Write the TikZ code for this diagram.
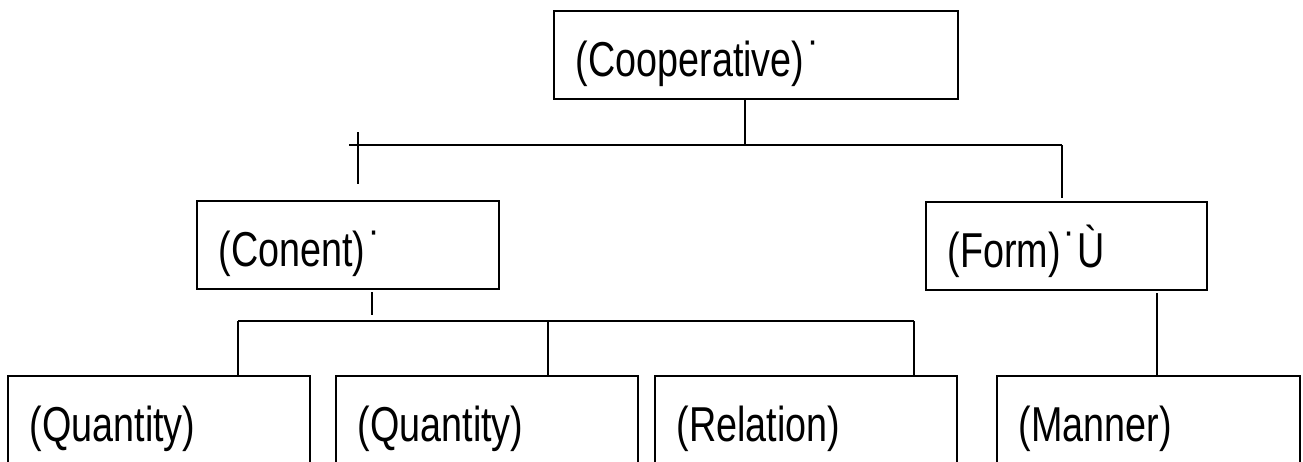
\documentclass[tikz,border=0pt]{standalone}
\usepackage{fontspec}
\setmainfont{Liberation Sans}[FakeStretch=0.77]

\begin{document}
\begin{tikzpicture}[x=1pt,y=-1pt,line width=1.5pt,
  box/.style={draw, rectangle, anchor=north west, inner xsep=22pt, inner ysep=0pt,
    minimum height=88pt, text height=52pt, text depth=8pt, align=left,
    font=\fontsize{49}{55}\selectfont},
  link/.style={line width=1.5pt}]
  % page frame
  \clip (0,0) rectangle (1303,461);
  \fill[white] (0,0) rectangle (1303,461);

  % boxes
  \node[box, text width=360pt] (coop) at (553,10) {(Cooperative)\kern4pt˙};
  \node[box, text width=258pt] (content) at (196,200) {(Conent)\kern4pt˙};
  \node[box, text width=237pt] (form) at (925,201) {(Form)\kern4pt˙Ù};
  \node[box, text width=258pt] (qa) at (7,375) {(Quantity)};
  \node[box, text width=258pt] (qb) at (335,375) {(Quantity)};
  \node[box, text width=258pt] (rel) at (654,375) {(Relation)};
  \node[box, text width=259pt] (man) at (996,375) {(Manner)};

  % junction points
  \coordinate (topj) at (745,145);
  \coordinate (topl) at (349,145);
  \coordinate (topr) at (1062,145);
  \coordinate (ticka) at (358,132);
  \coordinate (tickb) at (358,184);
  \coordinate (formin) at (1062,198);
  \coordinate (conta) at (372,292);
  \coordinate (contb) at (372,315);
  \coordinate (midl) at (238,321);
  \coordinate (midc) at (548,321);
  \coordinate (midr) at (914,321);
  \coordinate (manout) at (1157,293);

  % upper level
  \draw[link] (coop.south -| topj) -- (topj);
  \draw[link] (topl) -- (topr);
  \draw[link] (ticka) -- (tickb);
  \draw[link] (topr) -- (formin);

  % lower level
  \draw[link] (conta) -- (contb);
  \draw[link] (midl) -- (midr);
  \draw[link] (midl) -- (midl |- qa.north);
  \draw[link] (midc) -- (midc |- qb.north);
  \draw[link] (midr) -- (midr |- rel.north);
  \draw[link] (manout) -- (manout |- man.north);
\end{tikzpicture}
\end{document}
